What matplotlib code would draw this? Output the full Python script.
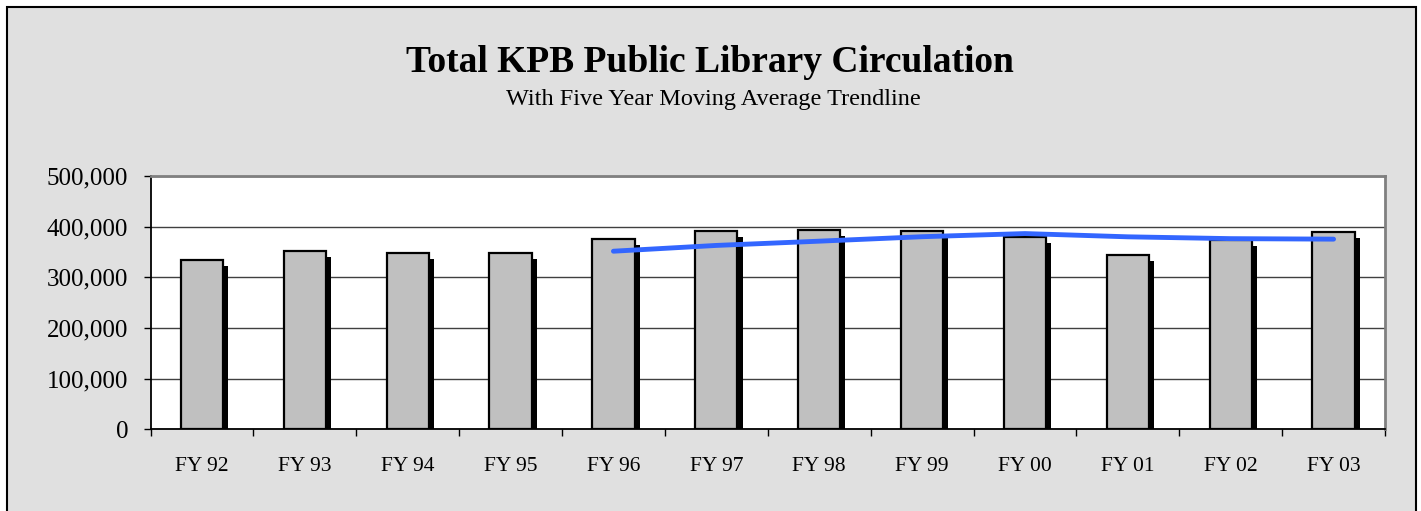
import numpy as np
import matplotlib
matplotlib.use("Agg")
import matplotlib.pyplot as plt
from matplotlib.patches import Rectangle
from matplotlib.ticker import FuncFormatter, FixedLocator

plt.rcParams["font.family"] = ["Liberation Serif", "DejaVu Serif"]

# Data
years = ["FY 92", "FY 93", "FY 94", "FY 95", "FY 96", "FY 97",
         "FY 98", "FY 99", "FY 00", "FY 01", "FY 02", "FY 03"]
circulation = [334000, 352000, 348000, 348000, 376000, 391000,
               394000, 392000, 379000, 344000, 373000, 389000]
# five year moving average, starts at FY 96
trend_years = years[4:]
trend_values = [351600, 363000, 371400, 380200, 386400, 380000, 376400, 375400]

W, H = 1421, 511
fig = plt.figure(figsize=(W / 100, H / 100), dpi=100)
fig.patch.set_facecolor("white")

# chart area background with border
fig.patches.append(Rectangle((7 / W, -0.05), (1416 - 7) / W, 1.05 - 7 / H,
                             transform=fig.transFigure, facecolor="#E0E0E0",
                             edgecolor="black", linewidth=1.5, zorder=-5))

x = np.arange(len(years))
left, right, top, bottom = 150.5, 1385, 176, 429.4
ax = fig.add_axes([left / W, 1 - bottom / H, (right - left) / W, (bottom - top) / H])
ax.set_facecolor("white")

bw = 0.41
# shadow bars
ax.bar(x + 0.05, np.array(circulation) - 12000, width=bw, color="black",
       linewidth=0, zorder=2)
ax.bar(x, circulation, width=bw, color="#C0C0C0", edgecolor="black",
       linewidth=1.6, zorder=3)

tx = [years.index(y) for y in trend_years]
ax.plot(tx, trend_values, color="#3366FF", linewidth=3.5,
        solid_capstyle="round", zorder=4)

ax.set_xlim(-0.5, len(years) - 0.5)
ax.set_ylim(0, 500000)

ax.yaxis.set_major_locator(FixedLocator([0, 100000, 200000, 300000, 400000, 500000]))
ax.yaxis.set_major_formatter(FuncFormatter(lambda v, p: f"{int(v):,}"))
ax.grid(axis="y", color="#404040", linewidth=1.0, zorder=1)
ax.set_axisbelow(True)

ax.set_xticks(np.arange(-0.5, len(years), 1.0))
ax.set_xticklabels([])
ax.set_xticks(x, minor=True)
ax.set_xticklabels(years, minor=True)
ax.tick_params(axis="x", which="major", direction="out", length=5, width=1, color="black")
ax.tick_params(axis="x", which="minor", length=0, pad=20, labelsize=15.5)
ax.tick_params(axis="y", direction="out", length=5, width=1, pad=11, labelsize=18)

for s in ["left", "bottom"]:
    ax.spines[s].set_color("black")
    ax.spines[s].set_linewidth(1.3)
for s in ["top", "right"]:
    ax.spines[s].set_color("#808080")
    ax.spines[s].set_linewidth(2)

fig.text(710 / W, 1 - 72 / H, "Total KPB Public Library Circulation",
         ha="center", va="baseline", fontsize=27, fontweight="bold")
fig.text(713 / W, 1 - 105 / H, "With Five Year Moving Average Trendline",
         ha="center", va="baseline", fontsize=17.5)

fig.savefig("out.png", dpi=100, facecolor=fig.get_facecolor())
plt.close(fig)
